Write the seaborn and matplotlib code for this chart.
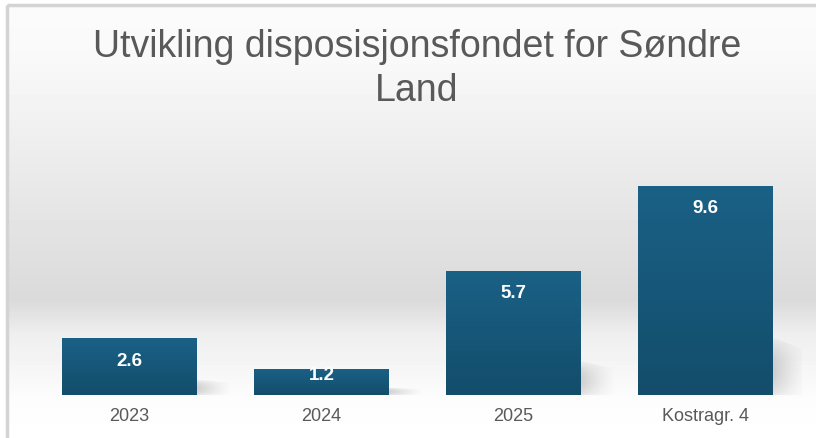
import numpy as np
import pandas as pd
import matplotlib
matplotlib.use('Agg')
import matplotlib.pyplot as plt
import seaborn as sns
from matplotlib.colors import LinearSegmentedColormap
from matplotlib.patches import Rectangle, Polygon

categories = ['2023', '2024', '2025', 'Kostragr. 4']
values = [2.6, 1.2, 5.7, 9.6]
value_labels = ['2.6', '1.2', '5.7', '9.6']
title = 'Utvikling disposisjonsfondet for Søndre\nLand'

sns.set_theme(style='white')
plt.rcParams['font.family'] = ['Liberation Sans', 'DejaVu Sans']

W, H = 816, 439
fig = plt.figure(figsize=(W / 100, H / 100), dpi=100)

# bakgrunn med gradient og ramme
bg = fig.add_axes([0, 0, 1, 1], zorder=0)
bg.set_axis_off()
rows = np.interp(np.arange(H), [0, 60, 300, 335, 400, H], [0.985, 0.975, 0.855, 0.935, 0.99, 1.0])
img = np.repeat(rows[:, None], W, axis=1)
img[:5, :] = 1.0
img[:, :7] = 1.0
bg.imshow(img, cmap='gray', vmin=0, vmax=1, aspect='auto', extent=[0, W, H, 0])
bg.add_patch(Rectangle((7, 5.5), W + 10, H + 10, fill=False, ec='#d4d4d4', lw=2.5))
bg.set_xlim(0, W)
bg.set_ylim(H, 0)

ax = fig.add_axes([33.5 / W, 43 / H, 768 / W, 266 / H], zorder=1)
ax.patch.set_alpha(0)

df = pd.DataFrame({'kategori': categories, 'verdi': values})
sns.barplot(data=df, x='kategori', y='verdi', color='#165b7c', width=0.7,
            saturation=1, linewidth=0, ax=ax, zorder=3)

bar_cmap = LinearSegmentedColormap.from_list('bar', ['#1a6186', '#134d6b'])
grad = np.linspace(0, 1, 100)[:, None]
for p in list(ax.patches):
    x0, w, h = p.get_x(), p.get_width(), p.get_height()
    xr = x0 + w
    # myk skygge til høyre for søylen
    sh_w = 0.18
    sh_h = 0.28 * h
    tx = np.linspace(0, 1, 60)[None, :]
    ty = np.linspace(0, 1, 40)[:, None]
    alpha = 0.28 * (1 - tx) ** 1.3 * np.sin(np.pi * (0.15 + 0.85 * ty)) ** 0.8
    rgba = np.zeros((40, 60, 4))
    rgba[..., :3] = 0.35
    rgba[..., 3] = alpha
    sh = ax.imshow(rgba, extent=[xr - 0.01, xr + sh_w, 0, sh_h], origin='lower',
                   aspect='auto', zorder=2, interpolation='bilinear')
    clip = Polygon([(xr - 0.01, 0), (xr - 0.01, sh_h), (xr + sh_w, 0.75 * sh_h), (xr + sh_w, 0)],
                   closed=True, transform=ax.transData, fc='none', ec='none')
    ax.add_patch(clip)
    sh.set_clip_path(clip)
    # gradient i søylen, lysest øverst
    im = ax.imshow(grad, extent=[x0, xr, 0, h], origin='upper', cmap=bar_cmap,
                   aspect='auto', zorder=3.5)
    im.set_clip_path(p)

for i, (v, lab) in enumerate(zip(values, value_labels)):
    ax.text(i, max(v - 1.0, 0.92), lab, ha='center', va='center', color='white',
            fontweight='bold', fontsize=13.5, zorder=5)

ax.set_xlim(-0.5, 3.5)
ax.set_ylim(0, 12.22)
ax.set_xlabel('')
ax.set_ylabel('')
ax.set_yticks([])
ax.tick_params(axis='x', length=0, pad=9, labelsize=13, labelcolor='#595959')
sns.despine(ax=ax, left=True, bottom=True)

fig.text(417 / W, 1 - 69 / H, title, ha='center', va='center', fontsize=27,
         color='#595959', linespacing=1.28,
         family=['Liberation Sans Narrow', 'Liberation Sans', 'DejaVu Sans'])

fig.savefig('out.png', dpi=100)
